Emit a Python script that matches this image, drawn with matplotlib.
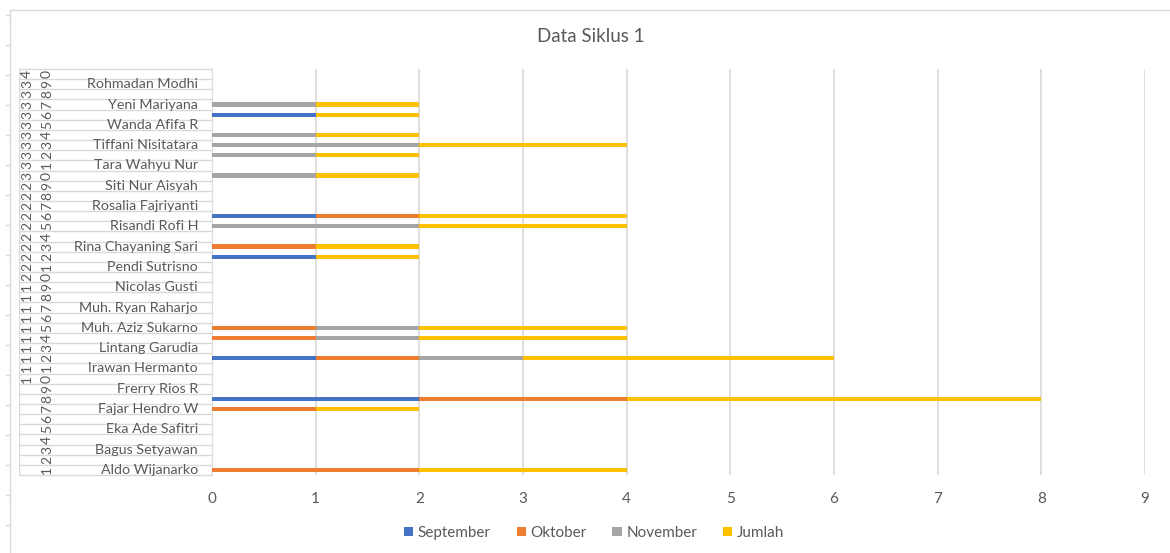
import matplotlib.pyplot as plt
from matplotlib.lines import Line2D

# row numbers 1..40 (outer category level)
rows = list(range(1, 41))

# student names, shown on the odd rows only (Excel skips every other label)
names = ["Aldo Wijanarko", "Bagus Setyawan", "Eka Ade Safitri", "Fajar Hendro W",
         "Frerry Rios R", "Irawan Hermanto", "Lintang Garudia", "Muh. Aziz Sukarno",
         "Muh. Ryan Raharjo", "Nicolas Gusti", "Pendi Sutrisno", "Rina Chayaning Sari",
         "Risandi Rofi H", "Rosalia Fajriyanti", "Siti Nur Aisyah", "Tara Wahyu Nur",
         "Tiffani Nisitatara", "Wanda Afifa R", "Yeni Mariyana", "Rohmadan Modhi"]

september = [0, 0, 0, 0, 0, 0, 0, 2, 0, 0,
             0, 1, 0, 0, 0, 0, 0, 0, 0, 0,
             0, 1, 0, 0, 0, 1, 0, 0, 0, 0,
             0, 0, 0, 0, 0, 1, 0, 0, 0, 0]
oktober = [2, 0, 0, 0, 0, 0, 1, 2, 0, 0,
           0, 1, 0, 1, 1, 0, 0, 0, 0, 0,
           0, 0, 1, 0, 0, 1, 0, 0, 0, 0,
           0, 0, 0, 0, 0, 0, 0, 0, 0, 0]
november = [0, 0, 0, 0, 0, 0, 0, 0, 0, 0,
            0, 1, 0, 1, 1, 0, 0, 0, 0, 0,
            0, 0, 0, 0, 2, 0, 0, 0, 0, 1,
            0, 1, 2, 1, 0, 0, 1, 0, 0, 0]
jumlah = [2, 0, 0, 0, 0, 0, 1, 4, 0, 0,
          0, 3, 0, 2, 2, 0, 0, 0, 0, 0,
          0, 1, 1, 0, 2, 2, 0, 0, 0, 1,
          0, 1, 2, 1, 0, 1, 1, 0, 0, 0]

series = [("September", september, "#4472C4"),
          ("Oktober", oktober, "#ED7D31"),
          ("November", november, "#A5A5A5"),
          ("Jumlah", jumlah, "#FFC000")]

plt.rcParams['font.family'] = ['Lato', 'DejaVu Sans']
txt = "#595959"
grid = "#D9D9D9"

W, H = 1170, 553
fig = plt.figure(figsize=(W / 100, H / 100), dpi=100)

# plot area in pixel coordinates
x0, x1 = 212, 1145
y_top, y_bot = 69, 475
ax = fig.add_axes([x0 / W, 1 - y_bot / H, (x1 - x0) / W, (y_bot - y_top) / H])

left = [0] * len(rows)
for label, vals, col in series:
    ax.barh(rows, vals, left=left, height=0.42, color=col, label=label, zorder=3)
    left = [a + b for a, b in zip(left, vals)]

ax.set_xlim(0, 9)
ax.set_ylim(0.5, 40.5)
ax.set_xticks(range(0, 10))
ax.set_yticks([])
ax.tick_params(axis='x', length=0, pad=12, labelsize=11, labelcolor=txt)
ax.grid(axis='x', color=grid, linewidth=1.2, zorder=0)
for s in ax.spines.values():
    s.set_visible(False)

# multi-level category labels drawn as a little table left of the plot
tx0 = 19
lab = fig.add_axes([tx0 / W, 1 - y_bot / H, (x0 - tx0) / W, (y_bot - y_top) / H])
lab.set_xlim(0, x0 - tx0)
lab.set_ylim(0.5, 40.5)
lab.axis('off')
for b in range(41):
    lab.axhline(b + 0.5, color=grid, linewidth=1, clip_on=False)
lab.axvline(0, color=grid, linewidth=1)
lab.axvline(x0 - tx0, color=grid, linewidth=1)

for r in rows:
    digits = str(r)
    if len(digits) == 1:
        digits = " " + digits
    for k, d in enumerate(digits):
        if d != " ":
            lab.text(8 + 20 * k, r, d, rotation=90, ha='center', va='center',
                     fontsize=10, color=txt)

for i, nm in enumerate(names):
    lab.text(179, rows[2 * i], nm, ha='right', va='center', fontsize=10.3, color=txt)

# title and legend
fig.text(591 / W, 1 - 37 / H, "Data Siklus 1", ha='center', va='center',
         fontsize=13.5, color=txt)
handles, labels = ax.get_legend_handles_labels()
fig.legend(handles, labels, loc='center', ncol=4, frameon=False,
           bbox_to_anchor=(594 / W, 1 - 533 / H), fontsize=11,
           handlelength=0.6, handleheight=0.6, handletextpad=0.3,
           columnspacing=1.7, labelcolor=txt)

# outer chart border fragments (left edge with ticks, top edge)
fig.add_artist(Line2D([10 / W, 10 / W], [0, 1 - 10 / H], color=grid, linewidth=1))
fig.add_artist(Line2D([10 / W, 1], [1 - 10 / H, 1 - 10 / H], color=grid, linewidth=1))
for k in range(18):
    yy = 1 - (15 + 30 * k) / H
    fig.add_artist(Line2D([6 / W, 10 / W], [yy, yy], color=grid, linewidth=1))

fig.savefig("out.png", dpi=100)
